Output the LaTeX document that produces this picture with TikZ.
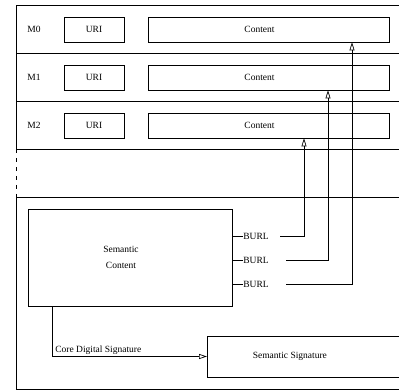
\documentclass[tikz,border=0pt]{standalone}
\usepackage{fontspec}
\setmainfont{Liberation Serif}
\usetikzlibrary{arrows.meta}

\tikzset{
  field/.style={draw, minimum height=25pt, inner sep=0pt},
  ref/.style={-{Triangle[open, length=8pt, width=5pt]}},
}

\begin{document}
\begin{tikzpicture}[x=1pt, y=-1pt, line width=0.7pt, font=\fontsize{9.5}{11}\selectfont]
\clip (0,0) rectangle (399,390);

% message rows
\draw (399,5) -- (16,5) -- (16,149);
\draw[dashed, dash pattern=on 4pt off 5pt] (16,149) -- (16,197);
\foreach \i in {0,1,2} {
  \draw (16,53+48*\i) -- (399,53+48*\i);
  \node (m\i) at (34,29.5+48*\i) {M\i};
  \node[field, minimum width=60pt] (uri\i) at (94,29.5+48*\i) {URI};
  \node[field, minimum width=241pt,
        label={[xshift=-9pt]center:Content}] (content\i) at (268.5,29.5+48*\i) {};
}

% outer box
\draw (399,197) -- (16,197) -- (16,389) -- (399,389);

\node[draw, minimum width=204pt, minimum height=97pt, align=center,
      label={[xshift=-9pt, align=center]center:Semantic\\[5pt]Content}] (sem) at (130,257.5) {};

\node[anchor=west, inner sep=0pt] (burl2) at (243,236) {BURL};
\node[anchor=west, inner sep=0pt] (burl1) at (243,260) {BURL};
\node[anchor=west, inner sep=0pt] (burl0) at (243,284) {BURL};
\foreach \i in {0,1,2}
  \draw (sem.east |- burl\i.west) -- (burl\i.west);

\coordinate (c2) at (280,236);
\coordinate (c1) at (286,260);
\coordinate (c0) at (286,284);
\draw[ref] (c2) -| (304,0 |- content2.south);
\draw[ref] (c1) -| (328,0 |- content1.south);
\draw[ref] (c0) -| (352,0 |- content0.south);

% signature
\node[draw, anchor=west, minimum width=205pt, minimum height=41pt,
      label={[xshift=-20pt]center:Semantic Signature}] (sig) at (207,356.5) {};
\coordinate (core) at (52,0 |- sem.south);
\draw[ref] (core) |- (sig.west)
  node[pos=0.5, above right, inner sep=2pt, xshift=1pt] {Core Digital Signature};
\end{tikzpicture}
\end{document}
